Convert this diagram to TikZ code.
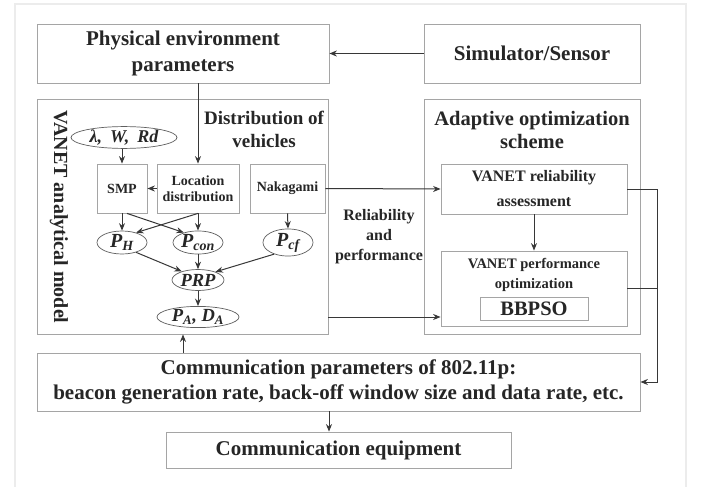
\documentclass[tikz,border=0pt]{standalone}
\usepackage{fontspec}
\setmainfont{Liberation Serif}
\usetikzlibrary{arrows.meta,shapes.geometric}

\definecolor{boxline}{RGB}{165,165,165}
\definecolor{wire}{RGB}{55,55,55}
\definecolor{ink}{RGB}{38,38,38}
\definecolor{ovalline}{RGB}{95,95,95}
\definecolor{frameline}{RGB}{236,236,236}

\newcommand\bfs[2]{\fontsize{#1}{#2}\selectfont\bfseries}

\tikzset{
  box/.style={draw=boxline, line width=0.8pt, rectangle, inner sep=0pt, text=ink, align=center},
  oval/.style={draw=ovalline, line width=0.7pt, ellipse, inner sep=0pt, text=ink,
    font=\bfs{20}{22}\itshape},
  label/.style={text=ink, align=center, inner sep=0pt},
  arr/.style={draw=wire, line width=1pt, -{Stealth[length=7.5pt,width=6pt]}},
  wireline/.style={draw=wire, line width=1pt},
}

\begin{document}
\begin{tikzpicture}[x=1pt,y=-1pt]
\useasboundingbox (0,0) rectangle (702,487);
\fill[white] (0,0) rectangle (702,487);

% faint page frame
\draw[frameline, line width=1.5pt] (15,487) -- (15,4) -- (686,4) -- (686,487);

% top row
\node[box, minimum width=292pt, minimum height=59pt, font=\bfs{21}{26}] (phys) at (183,53.5)
  {Physical environment\\parameters};
\node[box, minimum width=216pt, minimum height=59pt, font=\bfs{21}{26}] (sim) at (532,53.5)
  {Simulator/Sensor};

% analytical model frame
\node[box, minimum width=291pt, minimum height=235pt] (vanet) at (182.5,216.5) {};
\node[label, rotate=-90, font=\bfs{20}{24}] (vlabel) at (59,217) {VANET analytical model};
\node[label, font=\bfs{19}{23}] (distr) at (264,129.5) {Distribution of\\vehicles};

% adaptive scheme frame
\node[box, minimum width=216pt, minimum height=235pt] (adapt) at (532,216.5) {};
\node[label, font=\bfs{20.5}{23}] (adlabel) at (532,129.5) {Adaptive optimization\\scheme};

% inputs and blocks of the model
\node[oval, minimum width=106pt, minimum height=21pt, font=\bfs{18}{20}\itshape] (lam) at (124,137.5)
  {λ,\hspace{8pt}W,\hspace{8pt}Rd};
\node[box, minimum width=50pt, minimum height=49pt, font=\bfs{14}{16}] (smp) at (122,188.5) {SMP};
\node[box, minimum width=82pt, minimum height=49pt, font=\bfs{14}{16}] (loc) at (198,188.5)
  {Location\\distribution};
\node[box, minimum width=75pt, minimum height=49pt, font=\bfs{14}{16}] (nak) at (287.5,188.5) {Nakagami};

\node[oval, minimum width=50pt, minimum height=23pt] (ph) at (122,242.5) {P\textsubscript{H}};
\node[oval, minimum width=50pt, minimum height=23pt] (pcon) at (198,242.5) {P\textsubscript{con}};
\node[oval, minimum width=50pt, minimum height=23pt] (pcf) at (288,242.5) {P\textsubscript{cf}};
\node[oval, minimum width=52pt, minimum height=21pt, font=\bfs{18.5}{21}\itshape] (prp) at (198,280) {PRP};
\node[oval, minimum width=82pt, minimum height=21pt, font=\bfs{18.5}{21}\itshape] (pa) at (198,317)
  {P\textsubscript{A}, D\textsubscript{A}};

% blocks of the scheme
\node[box, minimum width=186pt, minimum height=50pt, font=\bfs{16}{25}] (rel) at (534,189)
  {VANET reliability\\assessment};
\node[box, minimum width=186pt, minimum height=75pt] (perf) at (534,288.5) {};
\node[label, font=\bfs{14.5}{20}] (perftxt) at (534,275) {VANET performance\\optimization};
\node[box, minimum width=108pt, minimum height=23pt, font=\bfs{20.5}{23}] (bbpso) at (534,308.5) {BBPSO};

\node[label, font=\bfs{16}{20}] (rellabel) at (379,237) {Reliability\\and\\performance};

% bottom row
\node[box, minimum width=603pt, minimum height=58pt, font=\bfs{21}{25}] (comm) at (338.5,382)
  {Communication parameters of 802.11p:\\beacon generation rate, back-off window size and data rate, etc.};
\node[box, minimum width=345pt, minimum height=36pt, font=\bfs{21}{25}] (equip) at (338.5,450)
  {Communication equipment};

% helper columns for connectors
\coordinate (rx) at (657,0);
\coordinate (upx) at (183,0);
\coordinate (dnx) at (329,0);

% connectors
\draw[arr] (sim.west) -- (phys.east);
\draw[arr] (loc.north |- phys.south) -- (loc.north);
\draw[arr] (smp.north |- lam.south) -- (smp.north);
\draw[arr] (loc.west) -- (smp.east);
\draw[arr] (smp.south) -- (ph.north);
\draw[arr] ([xshift=5pt]smp.south) -- (pcon.145);
\draw[arr] (loc.south) -- (pcon.north);
\draw[arr] (loc.south) -- (ph.35);
\draw[arr] (nak.south) -- (pcf.north);
\draw[arr] (ph.-35) -- (prp.152);
\draw[arr] (pcon.south) -- (prp.north);
\draw[arr] (pcf.-140) -- (prp.25);
\draw[arr] (prp.south) -- (pa.north);

\draw[arr] (nak.east) -- (rel.west);
\draw[arr] (vanet.east |- pa) -- (perf.west |- pa);
\draw[arr] (rel.south) -- (perf.north);

\draw[arr] (rel.east) -- (rel.east -| rx) |- (comm.east);
\draw[wireline] (perf.east) -- (perf.east -| rx);

\draw[arr] (comm.north -| upx) -- (vanet.south -| upx);
\draw[arr] (comm.south -| dnx) -- (equip.north -| dnx);
\end{tikzpicture}
\end{document}
